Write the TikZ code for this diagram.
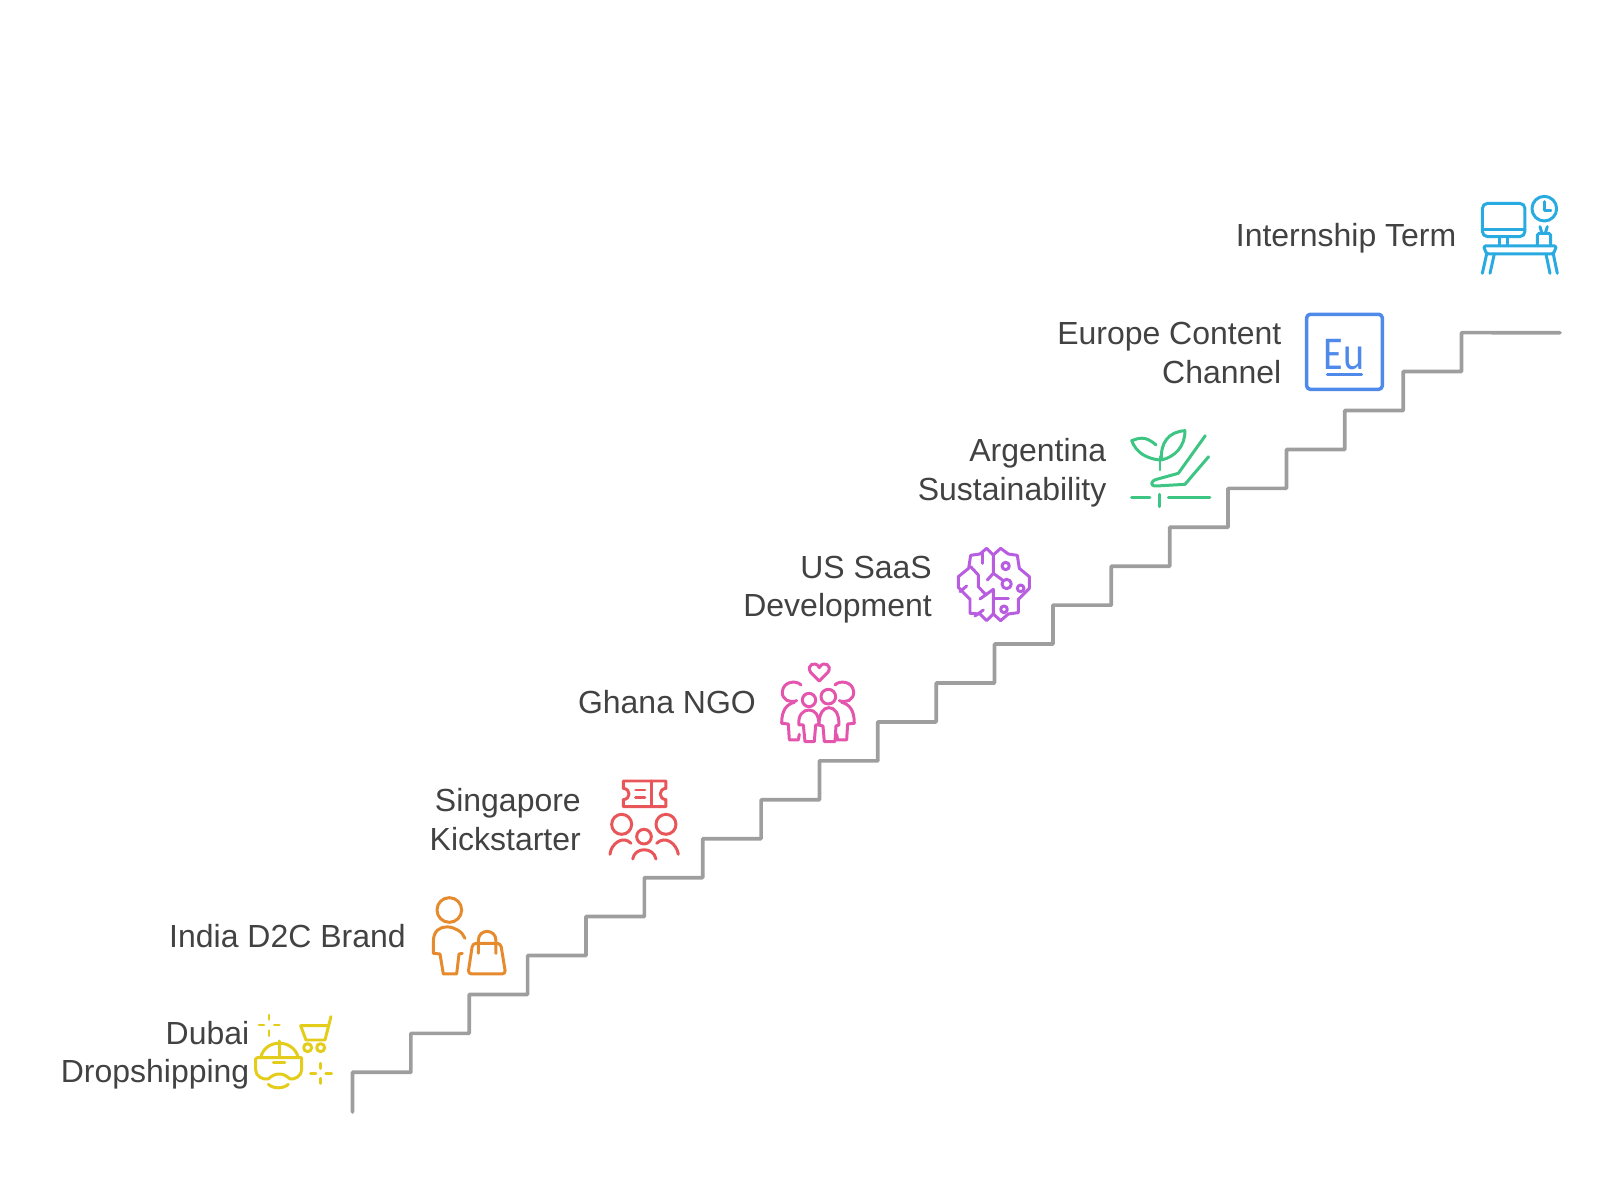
\documentclass[tikz,border=0pt]{standalone}
\usepackage{fontspec}
\setmainfont{Liberation Sans}
\newfontfamily\eufont{Carlito}
\definecolor{labelgray}{HTML}{424242}
\definecolor{stairgray}{HTML}{9E9E9E}
\definecolor{deskblue}{HTML}{29ABE2}
\definecolor{eublue}{HTML}{4F8AEB}
\definecolor{plantgreen}{HTML}{3CC583}
\definecolor{brainpurple}{HTML}{B85CE0}
\definecolor{familypink}{HTML}{E455AE}
\definecolor{ticketred}{HTML}{E9565A}
\definecolor{bagorange}{HTML}{E68A2E}
\definecolor{vryellow}{HTML}{E3CC1A}
\tikzset{
    stairline/.style={draw=stairgray,line width=1.05pt,line cap=round,line join=round},
    iconline/.style={line width=0.85pt,line cap=round,line join=round},
    caption/.style={anchor=base east,align=right,inner sep=0pt,text=labelgray,font=\fontsize{9.1}{10.9}\selectfont},
    zoomed/.style={shift={#1},x=0.03333mm,y=-0.03333mm,iconline}
}
\begin{document}
\begin{tikzpicture}[x=0.1mm,y=-0.1mm]
    \useasboundingbox (0,0) rectangle (1600,1191);
    % staircase
    \draw[stairline] (352.5,1112) -- (352.5,1072.3) \foreach \i in {1,...,19} { -- ++(58.37,0) -- ++(0,-38.93)} -- (1560,332.7);
    % captions
    \node[caption] (intern) at (1457,246.5) {Internship Term};
    \node[caption] (europe) at (1282,383) {Europe Content\\Channel};
    \node[caption] (argentina) at (1107,500) {Argentina\\Sustainability};
    \node[caption] (saas) at (932.5,616.5) {US SaaS\\Development};
    \node[caption] (ghana) at (756.5,713) {Ghana NGO};
    \node[caption] (singapore) at (581.5,850) {Singapore\\Kickstarter};
    \node[caption] (india) at (406.4,947.7) {India D2C Brand};
    \node[caption] (dubai) at (250,1082.4) {Dubai\\Dropshipping};
    % desk
    \begin{scope}[zoomed={(1440,180)},draw=deskblue]
        \draw[rounded corners=1.5pt] (127,70) rectangle (255,170);
        \draw (127,148) -- (255,148);
        \draw (178,170) -- (178,197) (203,170) -- (203,197);
        \draw (313,86) circle (37);
        \draw (313,65) -- (313,92) -- (333,92);
        \draw[rounded corners=0.5pt] (292,197) -- (292,160) -- (332,160) -- (332,197);
        \draw (300,140) -- (306,160) (322,140) -- (316,160);
        \draw[rounded corners=0.5pt] (130,198) -- (350,198) -- (340,222) -- (140,222) -- cycle;
        \draw (140,222) -- (127,280) (163,222) -- (150,280) (318,222) -- (330,280) (340,222) -- (352,280);
    \end{scope}
    % europe box
    \begin{scope}[zoomed={(1270,300)},draw=eublue]
        \draw[rounded corners=1pt,line width=1pt] (110,43) rectangle (337,268);
        \node[text=eublue,inner sep=0pt,font=\eufont\fontsize{13.4}{13.4}\selectfont,xscale=0.85] (eu) at (222,163) {Eu};
        \draw (172,225) -- (275,225);
    \end{scope}
    % plant in hand
    \begin{scope}[zoomed={(1100,415)},draw=plantgreen]
        \draw (168,90) .. controls (135,60) and (115,70) .. (95,77) .. controls (110,115) and (140,130) .. (178,135);
        \draw (185,135) .. controls (180,85) and (205,50) .. (255,47) .. controls (255,95) and (225,125) .. (185,135);
        \draw (180,125) -- (180,165);
        \draw (316,62) -- (235,175) -- (170,193) .. controls (150,198) and (150,215) .. (170,213) -- (255,208) -- (326,125);
        \draw (95,248) -- (150,248) (205,248) -- (330,248);
        \draw (178,238) -- (178,275);
    \end{scope}
    % brain
    \begin{scope}[zoomed={(930,530)},draw=brainpurple]
        \draw (190,75) -- (170,55) -- (150,72) -- (122,76) -- (116,115) -- (85,140) -- (85,172) -- (120,208) -- (120,250) -- (150,252) -- (170,272) -- (190,252) -- (212,272) -- (235,252) -- (265,248) -- (265,208) -- (298,175) -- (298,140) -- (268,115) -- (262,76) -- (235,72) -- (212,55) -- cycle;
        \draw (190,75) -- (190,130) -- (172,150);
        \draw (190,130) -- (220,152);
        \draw (230,162) circle (14) (227,108) circle (11) (272,175) circle (10) (222,238) circle (10);
        \draw (158,65) -- (158,100);
        \draw (122,110) -- (145,135) -- (145,170) -- (168,195);
        \draw (90,185) -- (110,168);
        \draw (150,207) -- (190,178) -- (190,252);
        \draw (190,205) -- (235,205);
        \draw (135,258) -- (160,240);
    \end{scope}
    % family
    \begin{scope}[zoomed={(755,645)},draw=familypink]
        \draw (193,108) -- (167,82) .. controls (152,60) and (182,45) .. (193,68) .. controls (204,45) and (234,60) .. (219,82) -- cycle;
        \draw (138,120) .. controls (125,105) and (85,108) .. (82,140) .. controls (80,165) and (105,175) .. (125,167);
        \draw (240,120) .. controls (253,105) and (293,108) .. (296,140) .. controls (298,165) and (273,175) .. (253,167);
        \draw (162,165) circle (20) (220,155) circle (22);
        \draw (118,172) .. controls (95,178) and (80,195) .. (80,235) -- (100,237) -- (103,285) -- (130,285) -- (133,268);
        \draw (260,172) .. controls (283,178) and (298,195) .. (298,235) -- (278,237) -- (275,285) -- (248,285) -- (245,268);
        \draw (132,240) .. controls (128,210) and (145,195) .. (162,195) .. controls (180,195) and (192,210) .. (192,240) -- (182,240) -- (178,290) -- (150,290) -- (145,240) -- cycle;
        \draw (192,240) .. controls (192,205) and (205,188) .. (222,188) .. controls (240,188) and (252,205) .. (252,240) -- (243,243) -- (240,290) -- (208,290) -- (204,243) -- cycle;
    \end{scope}
    % ticket and people
    \begin{scope}[zoomed={(585,755)},draw=ticketred]
        \draw (115,78) -- (243,78) -- (243,100) .. controls (220,102) and (220,132) .. (243,134) -- (243,155) -- (115,155) -- (115,134) .. controls (138,132) and (138,102) .. (115,100) -- cycle;
        \draw (200,78) -- (200,155);
        \draw (152,105) -- (180,105) (152,128) -- (180,128);
        \draw (110,208) circle (30) (243,208) circle (30) (177,245) circle (22);
        \draw (75,298) .. controls (78,265) and (115,240) .. (138,265);
        \draw (215,265) .. controls (240,240) and (275,265) .. (280,298);
        \draw (143,312) .. controls (150,275) and (205,275) .. (213,312);
    \end{scope}
    % person with bag
    \begin{scope}[zoomed={(410,870)},draw=bagorange]
        \draw (118,120) circle (37);
        \draw (165,205) .. controls (150,165) and (70,150) .. (70,215) -- (70,250) -- (90,252) -- (100,312) -- (140,312) -- (147,252) -- (157,250);
        \draw[rounded corners=1pt] (188,220) -- (174,312) -- (287,312) -- (272,220) -- cycle;
        \draw (205,250) -- (205,212) .. controls (205,175) and (258,175) .. (258,212) -- (258,250);
    \end{scope}
    % headset and cart
    \begin{scope}[zoomed={(240,985)},draw=vryellow]
        \draw (87,90) -- (87,103) (87,137) -- (87,152) (57,120) -- (72,120) (103,120) -- (118,120);
        \draw (273,95) -- (255,165) -- (198,165) -- (182,122) -- (262,122);
        \draw (203,188) circle (12) (242,188) circle (12);
        \draw (242,235) -- (242,250) (242,280) -- (242,295) (212,265) -- (228,265) (258,265) -- (275,265);
        \draw (62,218) .. controls (75,160) and (160,160) .. (175,218);
        \draw (118,168) -- (118,218);
        \draw (52,218) -- (185,218) -- (185,255) .. controls (185,275) and (160,285) .. (150,282) .. controls (130,262) and (105,262) .. (85,282) .. controls (70,285) and (47,275) .. (47,255) -- (47,222) -- cycle;
        \draw (100,233) -- (135,233);
        \draw (85,298) .. controls (100,312) and (130,312) .. (145,298);
    \end{scope}
\end{tikzpicture}
\end{document}
